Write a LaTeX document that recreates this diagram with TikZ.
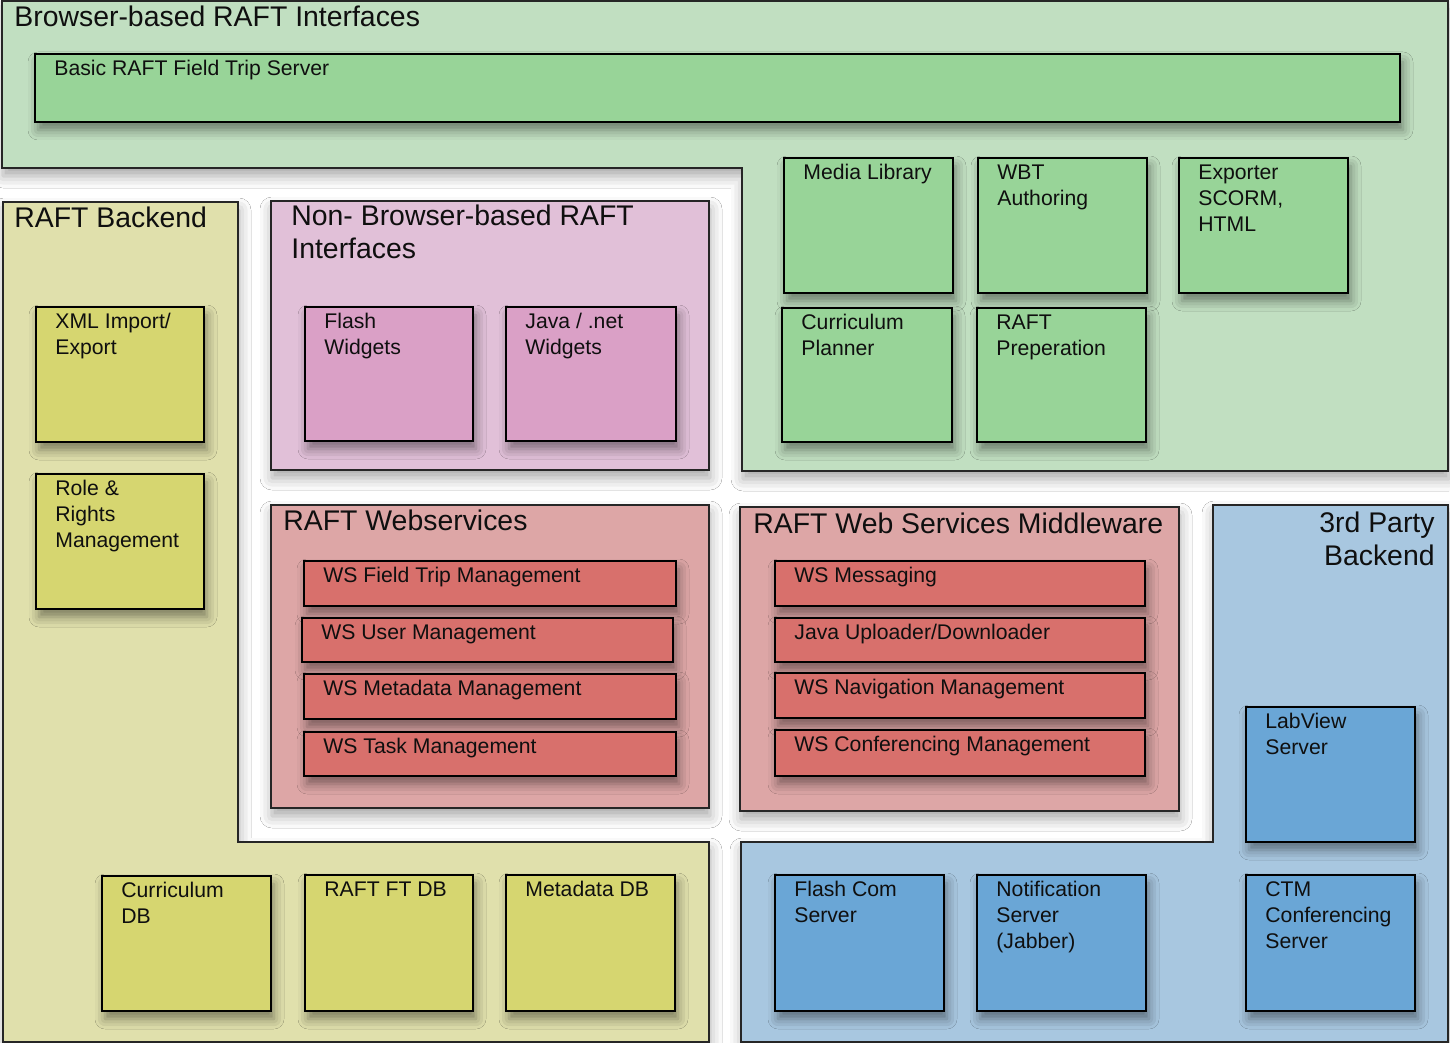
\documentclass[tikz,border=0pt]{standalone}
\usepackage{fontspec}
\setmainfont{Liberation Sans}
\usetikzlibrary{shadows.blur,fit}

% fills: pale group backgrounds and stronger component boxes
\definecolor{grnOuter}{RGB}{193,223,193}
\definecolor{grnInner}{RGB}{152,212,152}
\definecolor{ylwOuter}{RGB}{224,224,172}
\definecolor{ylwInner}{RGB}{214,214,112}
\definecolor{pnkOuter}{RGB}{225,192,216}
\definecolor{pnkInner}{RGB}{218,160,198}
\definecolor{redOuter}{RGB}{221,166,166}
\definecolor{redInner}{RGB}{216,112,108}
\definecolor{bluOuter}{RGB}{168,199,224}
\definecolor{bluInner}{RGB}{106,166,214}
\definecolor{ink}{RGB}{15,15,15}

\tikzset{
  region/.style={draw=black!85, line width=0.9pt,
    blur shadow={shadow xshift=0.5pt, shadow yshift=-4pt, shadow blur radius=6pt, shadow opacity=35}},
  comp/.style={draw=black, line width=1.1pt, inner sep=0pt, outer sep=0pt,
    blur shadow={shadow xshift=1.5pt, shadow yshift=-4pt, shadow blur radius=5pt, shadow opacity=45}},
  lbl/.style={anchor=north west, inner sep=0pt, align=left,
    font=\fontsize{10.6}{13}\selectfont, text=ink},
  ttl/.style={anchor=north west, inner sep=0pt, align=left,
    font=\fontsize{14.2}{16.5}\selectfont, text=ink},
}

% component box: name, x1, y1, x2, y2, fill, caption
\newcommand\compbox[7]{%
  \node[comp, fill=#6, fit={(#2,#3) (#4,#5)}] (#1) {};
  \node[lbl] (#1-txt) at ([xshift=9.5pt,yshift=-1.4pt]#1.north west) {\strut #7};
}

\begin{document}
\begin{tikzpicture}[x=0.5pt, y=-0.5pt]
\useasboundingbox (0,0) rectangle (1450,1043);
\fill[white] (0,0) rectangle (1450,1043);

% ---- group backgrounds ----
\filldraw[region, fill=grnOuter]
  (2,1) -- (1448,1) -- (1448,471) -- (742,471) -- (742,168) -- (2,168) -- cycle;
\filldraw[region, fill=ylwOuter]
  (3,202) -- (238,202) -- (238,842) -- (709,842) -- (709,1042) -- (3,1042) -- cycle;
\filldraw[region, fill=bluOuter]
  (1213,505) -- (1448,505) -- (1448,1042) -- (741,1042) -- (741,842) -- (1213,842) -- cycle;
\filldraw[region, fill=pnkOuter] (271,201) rectangle (709,470);
\filldraw[region, fill=redOuter] (271,505) rectangle (709,808);
\filldraw[region, fill=redOuter] (740,507) rectangle (1179,811);

% ---- group titles ----
\node[ttl] (t-browser) at (14,2.9) {\strut Browser-based RAFT Interfaces};
\node[ttl] (t-backend) at (14,203.9) {\strut RAFT Backend};
\node[ttl] (t-nonbrowser) at (291,201.9) {\strut Non- Browser-based RAFT\\Interfaces};
\node[ttl] (t-webservices) at (283,506.9) {\strut RAFT Webservices};
\node[ttl] (t-middleware) at (753,509.9) {\strut RAFT Web Services Middleware};
\node[ttl, anchor=north east, align=right] (t-thirdparty) at (1435,508.9) {\strut 3rd Party\\Backend};

% ---- browser-based interfaces ----
\compbox{basic}{35}{54}{1400}{122}{grnInner}{Basic RAFT Field Trip Server}
\compbox{media}{784}{158}{953}{293}{grnInner}{Media Library}
\compbox{wbt}{978}{158}{1147}{293}{grnInner}{WBT\\Authoring}
\compbox{exporter}{1179}{158}{1348}{293}{grnInner}{Exporter\\SCORM,\\HTML}
\compbox{planner}{782}{308}{952}{442}{grnInner}{Curriculum\\Planner}
\compbox{prep}{977}{308}{1146}{442}{grnInner}{RAFT\\Preperation}

% ---- backend ----
\compbox{xml}{36}{307}{204}{442}{ylwInner}{XML Import/\\Export}
\compbox{role}{36}{474}{204}{609}{ylwInner}{Role \&\\Rights\\Management}
\compbox{curdb}{102}{876}{271}{1011}{ylwInner}{Curriculum\\DB}
\compbox{ftdb}{305}{875}{473}{1011}{ylwInner}{RAFT FT DB}
\compbox{metadb}{506}{875}{675}{1011}{ylwInner}{Metadata DB}

% ---- non-browser interfaces ----
\compbox{flash}{305}{307}{473}{441}{pnkInner}{Flash\\Widgets}
\compbox{java}{506}{307}{676}{441}{pnkInner}{Java / .net\\Widgets}

% ---- web services ----
\compbox{wsft}{304}{561}{676}{606}{redInner}{WS Field Trip Management}
\compbox{wsuser}{302}{618}{673}{662}{redInner}{WS User Management}
\compbox{wsmeta}{304}{674}{676}{719}{redInner}{WS Metadata Management}
\compbox{wstask}{304}{732}{676}{776}{redInner}{WS Task Management}

% ---- middleware ----
\compbox{wsmsg}{775}{561}{1145}{606}{redInner}{WS Messaging}
\compbox{updown}{775}{618}{1145}{662}{redInner}{Java Uploader/Downloader}
\compbox{wsnav}{775}{673}{1145}{718}{redInner}{WS Navigation Management}
\compbox{wsconf}{775}{730}{1145}{776}{redInner}{WS Conferencing Management}

% ---- third party ----
\compbox{labview}{1246}{707}{1415}{842}{bluInner}{LabView\\Server}
\compbox{flashcom}{775}{875}{944}{1011}{bluInner}{Flash Com\\Server}
\compbox{notif}{977}{875}{1146}{1011}{bluInner}{Notification\\Server\\(Jabber)}
\compbox{ctm}{1246}{875}{1415}{1011}{bluInner}{CTM\\Conferencing\\Server}
\end{tikzpicture}
\end{document}
